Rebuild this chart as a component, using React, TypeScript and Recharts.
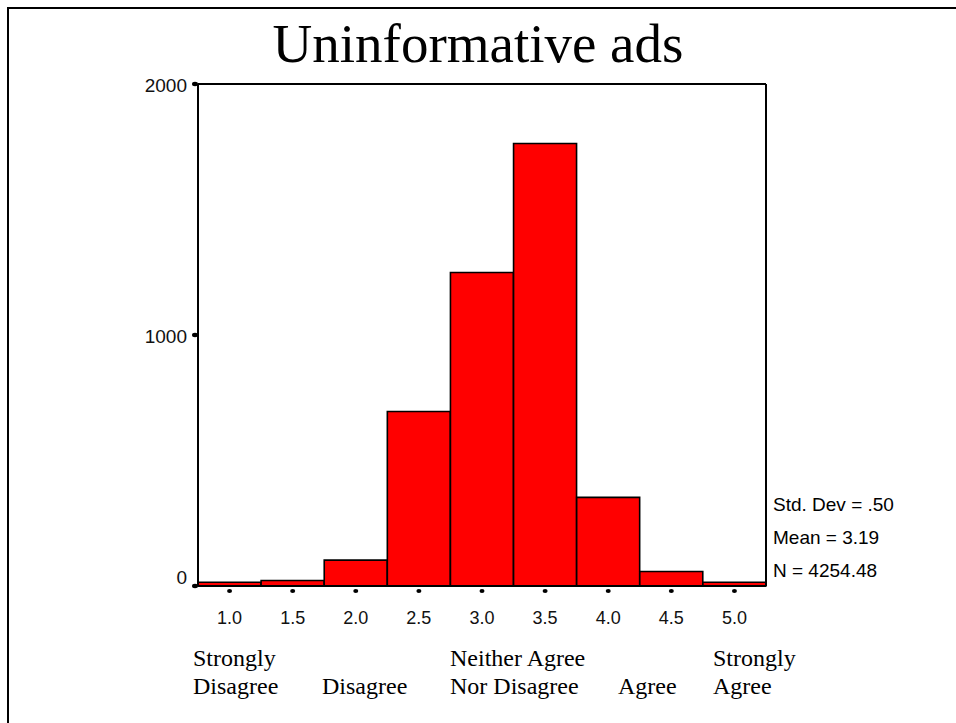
import React from "react";
import { BarChart, Bar, XAxis, YAxis, ReferenceLine } from "recharts";

const categories = ["1.0", "1.5", "2.0", "2.5", "3.0", "3.5", "4.0", "4.5", "5.0"];
const counts = [15, 22, 103, 695, 1249, 1763, 353, 58, 15];
const yTicks = [0, 1000, 2000];
const title = "Uninformative ads";
const stats = ["Std. Dev = .50", "Mean = 3.19", "N = 4254.48"];
const scaleLabels = [
  { lines: ["Strongly", "Disagree"], left: 193 },
  { lines: ["", "Disagree"], left: 322 },
  { lines: ["Neither Agree", "Nor Disagree"], left: 450 },
  { lines: ["", "Agree"], left: 618 },
  { lines: ["Strongly", "Agree"], left: 713 },
];

const data = categories.map((c, i) => ({ cat: c, count: counts[i] }));

const SANS = "'Liberation Sans', Arial, sans-serif";
const SERIF = "'Liberation Serif', 'Times New Roman', serif";

const XTick = (props: any) => {
  const { x, y, payload } = props;
  return (
    <g>
      <ellipse cx={x} cy={y + 5} rx={2.5} ry={2} fill="#000" />
      <text x={x} y={y + 38} textAnchor="middle" fontFamily={SANS} fontSize={18} fill="#111">
        {payload.value}
      </text>
    </g>
  );
};

const YTick = (props: any) => {
  const { x, y, payload } = props;
  const dy = payload.value === 0 ? -2 : 8;
  return (
    <g>
      <ellipse cx={x - 3} cy={y} rx={3} ry={2.2} fill="#000" />
      <text x={x - 11} y={y + dy} textAnchor="end" fontFamily={SANS} fontSize={19} fill="#111">
        {payload.value}
      </text>
    </g>
  );
};

export default function App() {
  return (
    <div style={{ position: "absolute", left: 0, top: 0, width: 956, height: 723, background: "#fff", overflow: "hidden" }}>
      <div
        style={{
          position: "absolute",
          left: 7,
          top: 7,
          width: 960,
          height: 730,
          borderTop: "2px solid #000",
          borderLeft: "2px solid #000",
        }}
      />
      <div style={{ position: "absolute", left: 0, top: 0 }}>
        <BarChart
          width={956}
          height={723}
          data={data}
          margin={{ top: 84, right: 190, bottom: 0, left: 0 }}
          barCategoryGap={0}
        >
          <XAxis
            dataKey="cat"
            height={137}
            tickLine={false}
            tickSize={0}
            tickMargin={0}
            axisLine={{ stroke: "#000", strokeWidth: 2 }}
            tick={<XTick />}
            interval={0}
          />
          <YAxis
            width={198}
            domain={[0, 2000]}
            ticks={yTicks}
            tickLine={false}
            tickSize={0}
            tickMargin={0}
            axisLine={{ stroke: "#000", strokeWidth: 2 }}
            tick={<YTick />}
          />
          <Bar dataKey="count" fill="#ff0000" stroke="#000" strokeWidth={1.6} isAnimationActive={false} />
          <ReferenceLine y={2000} stroke="#000" strokeWidth={2} />
          <ReferenceLine x="5.0" position="end" stroke="#000" strokeWidth={2} />
        </BarChart>
      </div>
      <svg width={956} height={723} style={{ position: "absolute", left: 0, top: 0, pointerEvents: "none" }}>
        <text x={478} y={62} textAnchor="middle" fontFamily={SERIF} fontSize={55} fill="#000">
          {title}
        </text>
        {stats.map((s, i) => (
          <text key={i} x={773} y={511 + i * 33} fontFamily={SANS} fontSize={19} fill="#000">
            {s}
          </text>
        ))}
        {scaleLabels.map((l, i) =>
          l.lines.map((t, j) => (
            <text key={`${i}-${j}`} x={l.left} y={666 + j * 28} fontFamily={SERIF} fontSize={24} fill="#000">
              {t}
            </text>
          ))
        )}
      </svg>
    </div>
  );
}
